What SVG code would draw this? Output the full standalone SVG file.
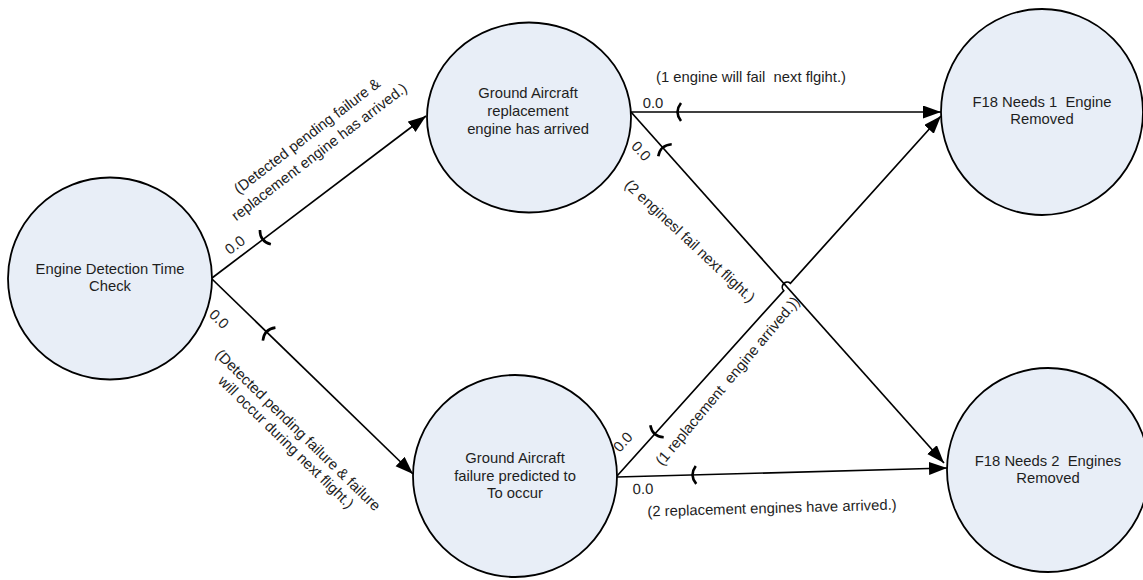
<svg xmlns="http://www.w3.org/2000/svg" width="1143" height="580" viewBox="0 0 1143 580">
<style>
.node{fill:#E8EEF7;stroke:#000;stroke-width:1.8}
.nt{font-family:"Liberation Sans",Arial,sans-serif;font-size:14.8px;fill:#1e1e1e;text-anchor:middle}
.lt{font-family:"Liberation Sans",Arial,sans-serif;font-size:14.8px;fill:#1e1e1e;text-anchor:middle;white-space:pre}
.edge{fill:none;stroke:#000;stroke-width:1.7}
.tick{fill:none;stroke:#000;stroke-width:2.6}
</style>
<defs>
<marker id="arr" markerUnits="userSpaceOnUse" markerWidth="19" markerHeight="14" refX="18" refY="6.5" orient="auto">
<path d="M0,0 L18,6.5 L0,13 Z" fill="#000"/>
</marker>
<path id="tk" d="M3,-9 Q-4,0 3,9"/>
</defs>
<rect width="1143" height="580" fill="#fff"/>

<g id="connectors">
<path class="edge" d="M212,278 L426,116" marker-end="url(#arr)"/>
<path class="edge" d="M212,279 L413,474" marker-end="url(#arr)"/>
<path class="edge" d="M631,112 L941,112" marker-end="url(#arr)"/>
<path class="edge" d="M631,112 L944,463" marker-end="url(#arr)"/>
<path class="edge" d="M617,476 L783.7,290.7 A5,5 0 0 1 790.4,283.3 L941,116" marker-end="url(#arr)"/>
<path class="edge" d="M617,477 L947,468" marker-end="url(#arr)"/>

<use href="#tk" class="tick" transform="translate(263,239) rotate(-37.4)"/>
<use href="#tk" class="tick" transform="translate(267,332) rotate(44.3)"/>
<use href="#tk" class="tick" transform="translate(678,112)"/>
<use href="#tk" class="tick" transform="translate(663,148) rotate(48.3)"/>
<use href="#tk" class="tick" transform="translate(655,433.5) rotate(-48)"/>
<use href="#tk" class="tick" transform="translate(693,475) rotate(-1.6)"/>

<text class="lt" transform="translate(235,245) rotate(-37.4)" y="5">0.0</text>
<text class="lt" transform="translate(307,136) rotate(-37.4)"><tspan x="0" y="5">(Detected pending failure &amp;</tspan><tspan x="0" y="25">replacement engine has arrived.)</tspan></text>

<text class="lt" transform="translate(219,319) rotate(44.3)" y="5">0.0</text>
<text class="lt" transform="translate(298,430) rotate(44.3)"><tspan x="0" y="5">(Detected pending failure &amp; failure</tspan><tspan x="0" y="22">will occur during next flight.)</tspan></text>

<text class="lt" x="653" y="108">0.0</text>
<text class="lt" x="751" y="82">(1 engine will fail  next flgiht.)</text>

<text class="lt" transform="translate(641,151) rotate(48)" y="5">0.0</text>
<text class="lt" transform="translate(690,241) rotate(43)" y="5">(2 enginesl fail next flight.)</text>

<text class="lt" transform="translate(623,442) rotate(-48)" y="5">0.0</text>
<text class="lt" transform="translate(727.5,381) rotate(-50)" y="5">(1 replacement  engine arrived.))</text>

<text class="lt" transform="translate(643,489) rotate(-1.6)" y="5">0.0</text>
<text class="lt" transform="translate(772,508) rotate(-1.6)" y="5">(2 replacement engines have arrived.)</text>
</g>

<g id="n1">
<ellipse class="node" cx="110" cy="278.5" rx="102" ry="101"/>
<text class="nt"><tspan x="110" y="274">Engine Detection Time</tspan><tspan x="110" y="291">Check</tspan></text>
</g>
<g id="n2">
<ellipse class="node" cx="529" cy="117.5" rx="102" ry="95"/>
<text class="nt"><tspan x="528" y="98">Ground Aircraft</tspan><tspan x="528" y="116">replacement</tspan><tspan x="528" y="133.5">engine has arrived</tspan></text>
</g>
<g id="n3">
<ellipse class="node" cx="515" cy="476" rx="102" ry="101"/>
<text class="nt"><tspan x="515" y="463">Ground Aircraft</tspan><tspan x="515" y="481">failure predicted to</tspan><tspan x="515" y="498">To occur</tspan></text>
</g>
<g id="n4">
<ellipse class="node" cx="1042" cy="112" rx="101" ry="103"/>
<text class="nt" style="white-space:pre"><tspan x="1042" y="107">F18 Needs 1  Engine</tspan><tspan x="1042" y="124">Removed</tspan></text>
</g>
<g id="n5">
<ellipse class="node" cx="1048" cy="470" rx="101" ry="102"/>
<text class="nt" style="white-space:pre"><tspan x="1048" y="466">F18 Needs 2  Engines</tspan><tspan x="1048" y="483">Removed</tspan></text>
</g>
</svg>
